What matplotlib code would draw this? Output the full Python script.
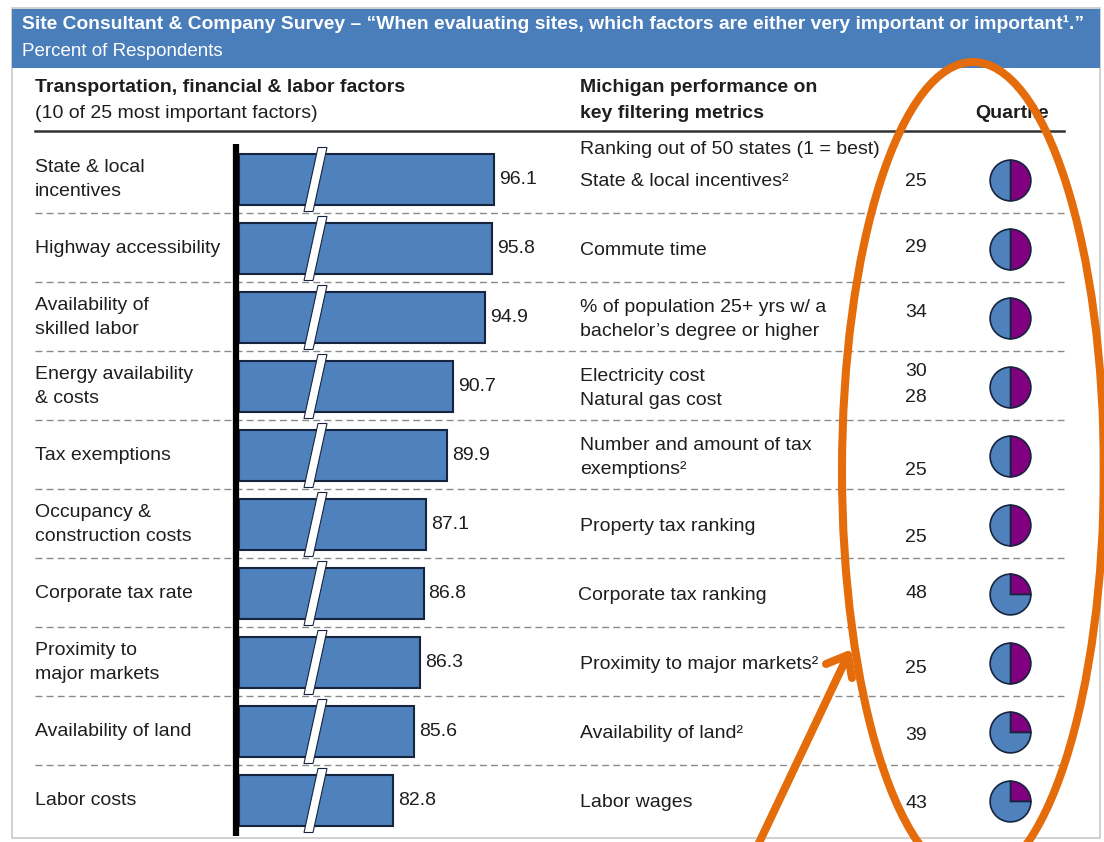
import numpy as np
import matplotlib
matplotlib.use('Agg')
import matplotlib.pyplot as plt
from matplotlib.patches import Rectangle, Polygon, Ellipse

plt.rcParams['font.family'] = ['Liberation Sans', 'DejaVu Sans']

# 調査結果（回答者の割合）
factors = ['State & local\nincentives', 'Highway accessibility', 'Availability of\nskilled labor',
           'Energy availability\n& costs', 'Tax exemptions', 'Occupancy &\nconstruction costs',
           'Corporate tax rate', 'Proximity to\nmajor markets', 'Availability of land', 'Labor costs']
pct = [96.1, 95.8, 94.9, 90.7, 89.9, 87.1, 86.8, 86.3, 85.6, 82.8]

# ミシガン州の指標と順位
metrics = ['State & local incentives\u00b2', 'Commute time',
           '% of population 25+ yrs w/ a\nbachelor\u2019s degree or higher',
           'Electricity cost\nNatural gas cost', 'Number and amount of tax\nexemptions\u00b2',
           'Property tax ranking', 'Corporate tax ranking', 'Proximity to major markets\u00b2',
           'Availability of land\u00b2', 'Labor wages']
ranks = [['25'], ['29'], ['34'], ['30', '28'], ['25'], ['25'], ['48'], ['25'], ['39'], ['43']]
# 四分位（紫の割合）
quartile_share = [0.5, 0.5, 0.5, 0.5, 0.5, 0.5, 0.25, 0.5, 0.25, 0.25]

W, H = 1104, 842
BLUE = '#4f81bd'
NAVY = '#17243d'
PURPLE = '#800080'
ORANGE = '#e46c0a'
TXT = '#1e1e1e'
FS = 14
LS = 1.55

fig = plt.figure(figsize=(W / 100, H / 100), dpi=100)
ax = fig.add_axes([0, 0, 1, 1])
ax.set_xlim(0, W)
ax.set_ylim(H, 0)
ax.axis('off')

row_y = 179.5 + 69.0 * np.arange(len(pct))

# タイトル帯
ax.add_patch(Rectangle((12, 8), 1088, 830, fc='none', ec='#c8c8c8', lw=1.2))
ax.add_patch(Rectangle((12, 9), 1088, 59, fc='#4a7ebb', ec='none'))
ax.text(22, 24, 'Site Consultant & Company Survey \u2013 \u201cWhen evaluating sites, which factors are either very important or important\u00b9.\u201d',
        color='white', fontsize=13.9, fontweight='bold', va='center')
ax.text(22, 51, 'Percent of Respondents', color='white', fontsize=13.5, va='center')

# 見出し
ax.text(35, 88, 'Transportation, financial & labor factors', fontsize=FS, fontweight='bold', va='center', color=TXT)
ax.text(35, 113, '(10 of 25 most important factors)', fontsize=FS, va='center', color=TXT)
ax.text(580, 88, 'Michigan performance on', fontsize=FS, fontweight='bold', va='center', color=TXT)
ax.text(580, 113, 'key filtering metrics', fontsize=FS, fontweight='bold', va='center', color=TXT)
ax.text(975, 113, 'Quartile', fontsize=FS, fontweight='bold', va='center', color=TXT)
ax.plot([35, 1064], [131, 131], color='#333333', lw=1.8)
ax.text(580, 150, 'Ranking out of 50 states (1 = best)', fontsize=FS, va='center', color=TXT)

# 区切り線
for k in range(len(pct) - 1):
    yy = (row_y[k] + row_y[k + 1]) / 2 - 1.5
    ax.plot([35, 1064], [yy, yy], color='#8a8a8a', lw=1.0, dashes=(5, 3))

rank_dy = [2, -1, -5, 0, 15, 13, 0, 6, 4, 3]
for i in range(len(pct)):
    ax.text(35, row_y[i], factors[i], fontsize=FS, va='center', linespacing=LS, color=TXT)
    ax.text(580 if i != 6 else 578, row_y[i] + 2, metrics[i], fontsize=FS, va='center',
            linespacing=LS, color=TXT)
    if len(ranks[i]) == 1:
        ax.text(916, row_y[i] + rank_dy[i], ranks[i][0], fontsize=FS, ha='center', va='center', color=TXT)
    else:
        ax.text(916, row_y[i] - 15, ranks[i][0], fontsize=FS, ha='center', va='center', color=TXT)
        ax.text(916, row_y[i] + 11, ranks[i][1], fontsize=FS, ha='center', va='center', color=TXT)

# 棒グラフ（軸の途中を省略）
x0 = 239
ppu = 7.594
vmin = 62.5
axb = fig.add_axes([x0 / W, 0, (W - x0) / W, 1])
axb.set_xlim(vmin, vmin + (W - x0) / ppu)
axb.set_ylim(H, 0)
axb.axis('off')
axb.barh(row_y, np.array(pct) - vmin, left=vmin, height=51, color=BLUE, edgecolor=NAVY, lw=1.5)
for y, v in zip(row_y, pct):
    axb.text(v + 0.65, y, f'{v:.1f}', fontsize=FS, va='center', color=TXT)

# 四分位の円
for y, s in zip(row_y, quartile_share):
    axp = fig.add_axes([(1010.5 - 21) / W, 1 - (y + 1 + 21) / H, 42 / W, 42 / H])
    axp.pie([s, 1 - s], startangle=90, counterclock=False, colors=[PURPLE, BLUE], radius=1,
            wedgeprops=dict(edgecolor=NAVY, linewidth=1.2))
    axp.set_xlim(-1.03, 1.03)
    axp.set_ylim(-1.03, 1.03)
    axp.set_aspect('equal')

# 前面：省略記号・縦軸・楕円・矢印
axo = fig.add_axes([0, 0, 1, 1])
axo.set_xlim(0, W)
axo.set_ylim(H, 0)
axo.axis('off')
axo.patch.set_alpha(0)
for y in row_y:
    top, bot = y - 32, y + 32
    axo.add_patch(Polygon([(304, bot), (313, bot), (327, top), (318, top)], closed=True,
                          fc='white', ec=NAVY, lw=0.8))
axo.plot([236, 236], [144, 836], color='black', lw=4.5, solid_capstyle='butt')
axo.add_patch(Ellipse((973, 471), 262, 818, fc='none', ec=ORANGE, lw=5.8))
axo.plot([758, 848], [845, 655], color=ORANGE, lw=5.8, solid_capstyle='round')
axo.plot([826, 848, 852], [664, 655, 678], color=ORANGE, lw=5.8,
         solid_capstyle='round', solid_joinstyle='round')

fig.savefig('out.png', dpi=100)
